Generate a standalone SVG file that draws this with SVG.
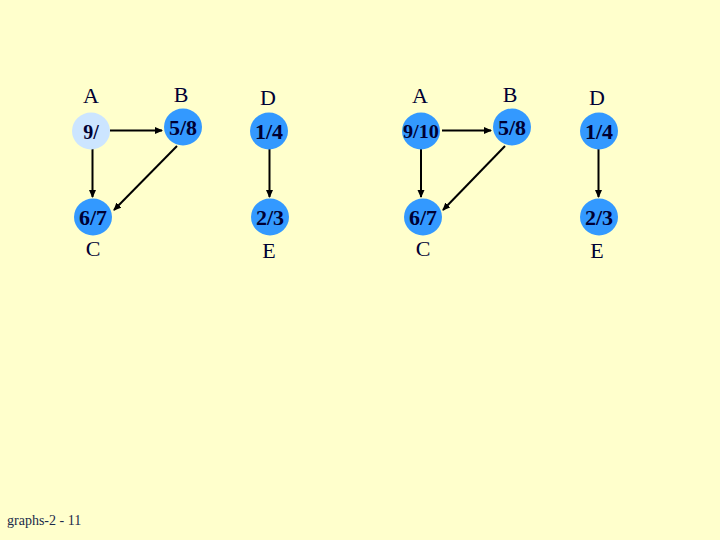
<svg xmlns="http://www.w3.org/2000/svg" width="720" height="540" viewBox="0 0 720 540">
<defs>
<marker id="ah" markerWidth="8" markerHeight="8" refX="7" refY="4" orient="auto" markerUnits="userSpaceOnUse">
<path d="M0,0.5 L8,4 L0,7.5 Z" fill="#000"/>
</marker>
<style>
.bg{fill:#FFFFCC}
.n{fill:#3399FF}
.nl{fill:#CCE5FF}
.v{font-family:"Liberation Serif",serif;font-weight:bold;font-size:22px;fill:#000033;text-anchor:middle}
.l{font-family:"Liberation Serif",serif;font-size:22px;fill:#000033;text-anchor:middle}
.e{stroke:#000;stroke-width:2;fill:none;marker-end:url(#ah)}
.f{font-family:"Liberation Serif",serif;font-size:14px;fill:#1A2A4A}
</style>
</defs>
<rect class="bg" width="720" height="540"/>
<g id="edges">
<line class="e" x1="110" y1="130.5" x2="162" y2="130.5"/>
<line class="e" x1="92.5" y1="149" x2="92.5" y2="197"/>
<line class="e" x1="177" y1="146" x2="114" y2="210"/>
<line class="e" x1="269.5" y1="148" x2="269.5" y2="197"/>
<line class="e" x1="442" y1="130.5" x2="491" y2="130.5"/>
<line class="e" x1="421" y1="149" x2="421" y2="197"/>
<line class="e" x1="505" y1="146" x2="443" y2="210"/>
<line class="e" x1="598.5" y1="148" x2="598.5" y2="197"/>
</g>
<g id="A1"><ellipse class="nl" cx="91" cy="131" rx="19" ry="18.5"/><text class="v" x="91" y="139" style="font-size:20px">9/</text><text class="l" x="91" y="103">A</text></g>
<g id="B1"><ellipse class="n" cx="183" cy="127" rx="19" ry="18.5"/><text class="v" x="183" y="135">5/8</text><text class="l" x="181" y="102">B</text></g>
<g id="D1"><ellipse class="n" cx="269" cy="131" rx="19" ry="18.5"/><text class="v" x="269" y="139">1/4</text><text class="l" x="268" y="105">D</text></g>
<g id="C1"><ellipse class="n" cx="93" cy="217" rx="19" ry="18.5"/><text class="v" x="93" y="225">6/7</text><text class="l" x="93" y="256">C</text></g>
<g id="E1"><ellipse class="n" cx="270" cy="217" rx="19" ry="18.5"/><text class="v" x="270" y="225">2/3</text><text class="l" x="269" y="258">E</text></g>
<g id="A2"><ellipse class="n" cx="421" cy="131" rx="19" ry="18.5"/><text class="v" x="421" y="138" style="font-size:18px" textLength="36" lengthAdjust="spacingAndGlyphs">9/10</text><text class="l" x="420" y="103">A</text></g>
<g id="B2"><ellipse class="n" cx="512" cy="127" rx="19" ry="18.5"/><text class="v" x="512" y="135">5/8</text><text class="l" x="510" y="102">B</text></g>
<g id="D2"><ellipse class="n" cx="599" cy="131" rx="19" ry="18.5"/><text class="v" x="599" y="139">1/4</text><text class="l" x="597" y="105">D</text></g>
<g id="C2"><ellipse class="n" cx="423" cy="217" rx="19" ry="18.5"/><text class="v" x="423" y="225">6/7</text><text class="l" x="423" y="256">C</text></g>
<g id="E2"><ellipse class="n" cx="599" cy="217" rx="19" ry="18.5"/><text class="v" x="599" y="225">2/3</text><text class="l" x="597" y="258">E</text></g>
<text class="f" x="7" y="525">graphs-2 - 11</text>
</svg>
